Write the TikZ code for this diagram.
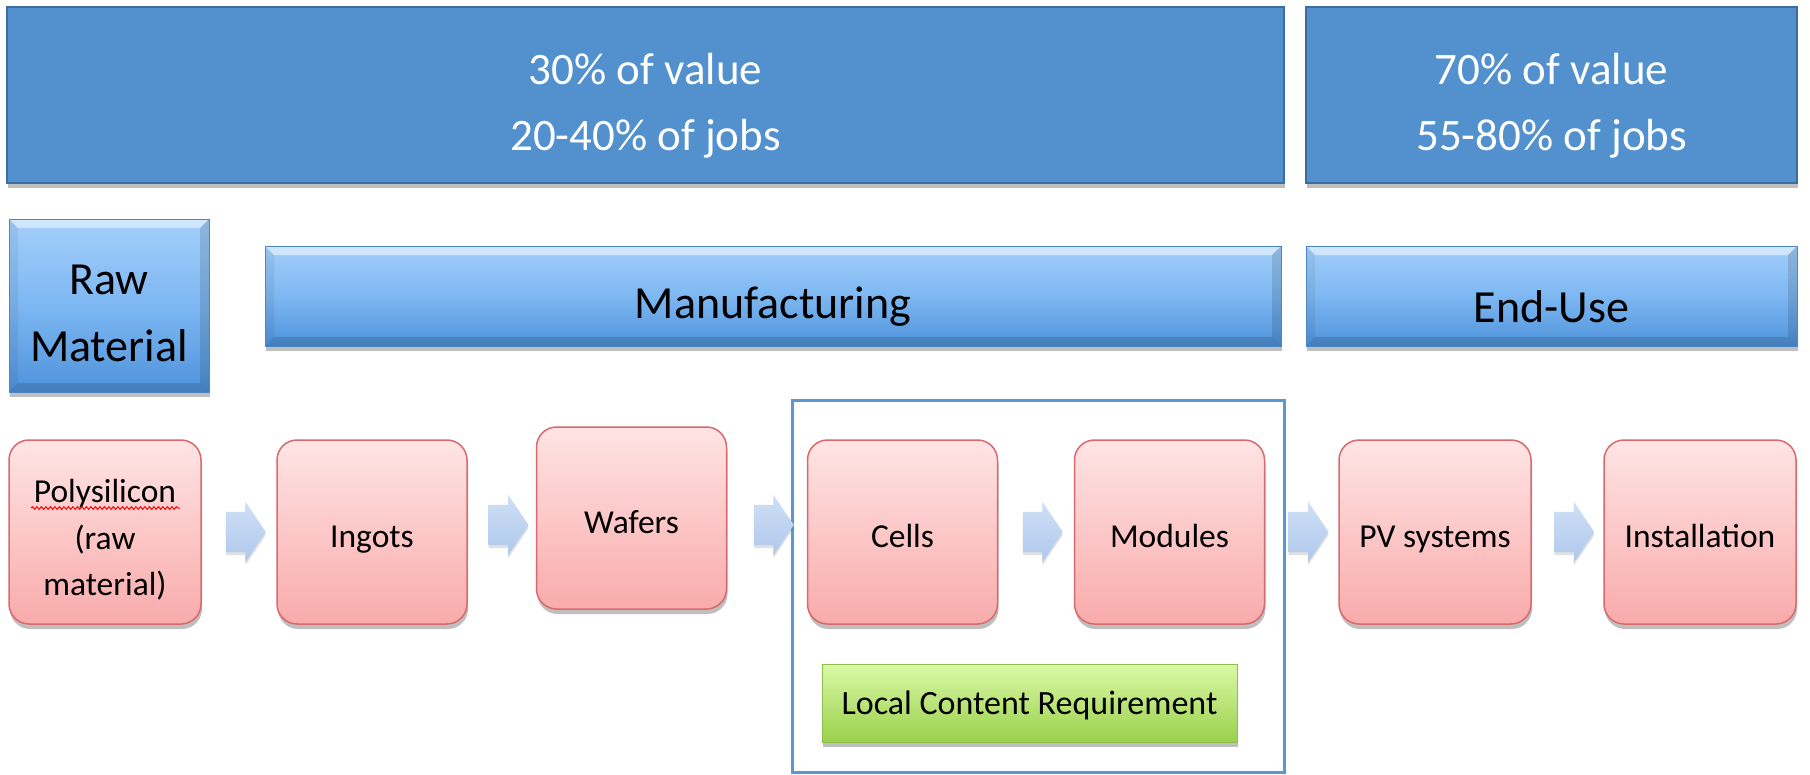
\documentclass[tikz,border=0pt]{standalone}
\usepackage{fontspec}
\setmainfont{Carlito}
\usetikzlibrary{shapes.arrows,shadows,calc,decorations.pathmorphing}

\definecolor{bannerfill}{HTML}{5291CE}
\definecolor{bannerline}{HTML}{3C6D9E}
\definecolor{bartop}{HTML}{A4CFFB}
\definecolor{barmid}{HTML}{7DB7F2}
\definecolor{barbot}{HTML}{4F93DB}
\definecolor{barline}{HTML}{4A86C6}
\definecolor{boxtop}{HTML}{FFE4E4}
\definecolor{boxbot}{HTML}{F9ABAB}
\definecolor{boxline}{HTML}{D9696C}
\definecolor{arrtop}{HTML}{CFE0F7}
\definecolor{arrbot}{HTML}{AFC8EC}
\definecolor{lcrtop}{HTML}{DAF9A6}
\definecolor{lcrbot}{HTML}{9BD04C}
\definecolor{lcrline}{HTML}{8DBE4C}
\definecolor{framecol}{HTML}{5B97D2}

\tikzset{
  softshadow/.style={drop shadow={shadow xshift=1pt, shadow yshift=-5pt, opacity=0.25, fill=black}},
  banner/.style={draw=bannerline, line width=2pt, fill=bannerfill, inner sep=0pt, softshadow},
  bannertext/.style={text=white, font=\fontsize{45}{66}\selectfont, align=center, inner sep=0pt},
  % bevelled header bar
  stagebar/.style={draw=barline, line width=0.8pt, top color=bartop, bottom color=barbot,
    middle color=barmid, inner sep=0pt, softshadow,
    path picture={
      \coordinate (bnw) at (path picture bounding box.north west);
      \coordinate (bne) at (path picture bounding box.north east);
      \coordinate (bsw) at (path picture bounding box.south west);
      \coordinate (bse) at (path picture bounding box.south east);
      \fill[white, opacity=0.5] (bnw) -- (bne) -- ($(bne)+(-9pt,-9pt)$) -- ($(bnw)+(9pt,-9pt)$) -- cycle;
      \fill[black, opacity=0.14] (bsw) -- (bse) -- ($(bse)+(-9pt,9pt)$) -- ($(bsw)+(9pt,9pt)$) -- cycle;
      \fill[black, opacity=0.06] (bnw) -- (bsw) -- ($(bsw)+(9pt,9pt)$) -- ($(bnw)+(9pt,-9pt)$) -- cycle;
      \fill[black, opacity=0.12] (bne) -- (bse) -- ($(bse)+(-9pt,9pt)$) -- ($(bne)+(-9pt,-9pt)$) -- cycle;
    }},
  bartext/.style={font=\fontsize{46}{67}\selectfont, align=center, inner sep=0pt},
  stepbox/.style={rounded corners=20pt, draw=boxline, line width=1.5pt, top color=boxtop,
    bottom color=boxbot, font=\fontsize{33.5}{46.5}\selectfont, align=center, inner sep=0pt,
    text height=34pt, text depth=4pt,
    minimum width=190pt, minimum height=184pt, softshadow},
  steptext/.style={font=\fontsize{33.5}{46.5}\selectfont, align=center, inner sep=0pt},
  flow/.style={single arrow, single arrow head extend=10pt, single arrow tip angle=112,
    minimum width=60pt, minimum height=40pt, inner xsep=0pt, inner ysep=20pt,
    top color=arrtop, bottom color=arrbot, draw=none,
    drop shadow={shadow xshift=0pt, shadow yshift=-3pt, opacity=0.12, fill=black}},
  lcrbox/.style={draw=lcrline, line width=1pt, top color=lcrtop, bottom color=lcrbot,
    font=\fontsize{34}{40}\selectfont, inner sep=0pt, text height=28pt, text depth=5pt,
    softshadow},
}

\begin{document}
\begin{tikzpicture}[x=1pt, y=-1pt]
  \useasboundingbox[fill=white] (0,0) rectangle (1810,774);

  % value and jobs banners
  \node (valL) [banner, minimum width=1277pt, minimum height=176pt] at (645.5,95) {};
  \node (valLtxt) [bannertext] at ($(valL.center)+(0pt,-11pt)$) {30\% of value\\20-40\% of jobs};
  \node (valR) [banner, minimum width=491pt, minimum height=176pt] at (1551.5,95) {};
  \node (valRtxt) [bannertext] at ($(valR.center)+(0pt,-11pt)$) {70\% of value\\55-80\% of jobs};

  % stage headers
  \node (raw) [stagebar, minimum width=200pt, minimum height=173pt] at (109,305.5) {};
  \node (rawtxt) [bartext] at ($(raw.center)+(0pt,-8pt)$) {Raw\\Material};
  \node (manu) [stagebar, minimum width=1016pt, minimum height=100pt] at (773,296) {};
  \node (manutxt) [bartext] at ($(manu.center)+(0pt,-11pt)$) {Manufacturing};
  \node (enduse) [stagebar, minimum width=491pt, minimum height=100pt] at (1551.5,296) {};
  \node (endusetxt) [bartext] at ($(enduse.center)+(0pt,-11pt)$) {End-Use};

  % frame round the cells and modules steps
  \node (lcrframe) [draw=framecol, line width=3pt, minimum width=492pt, minimum height=372pt,
    inner sep=0pt] at (1038,586) {};

  % value chain steps
  \node (poly) [stepbox, minimum width=192pt] at (105,532) {};
  \node (polytxt) [steptext] at ($(poly.center)+(0pt,-8pt)$) {Polysilicon\\(raw\\material)};
  \node (ingots) [stepbox] at (372,532) {Ingots};
  \node (wafers) [stepbox, minimum height=182pt] at (631.5,518) {Wafers};
  \node (cells) [stepbox] at (902.5,532) {Cells};
  \node (modules) [stepbox] at (1169.5,532) {Modules};
  \node (pv) [stepbox, minimum width=192pt] at (1435,532) {PV systems};
  \node (install) [stepbox, minimum width=192pt] at (1700,532) {Installation};

  % spell-check squiggle under Polysilicon
  \coordinate (sqA) at (31,508);
  \coordinate (sqB) at (180,508);
  \draw[red, line width=1pt, decorate, decoration={snake, amplitude=1.3pt, segment length=4.5pt}]
    (sqA) -- (sqB);

  % flow arrows between the steps
  \node (a1) [flow] at ($(poly.east)!0.5!(ingots.west)$) {};
  \node (a2) [flow] at ($(ingots.east)!0.5!(wafers.west)$) {};
  \node (a3) [flow] at ($(wafers.east)!0.5!(cells.west)$) {};
  \node (a4) [flow] at ($(cells.east)!0.5!(modules.west)$) {};
  \node (a5) [flow] at ($(modules.east)!0.5!(pv.west)$) {};
  \node (a6) [flow] at ($(pv.east)!0.5!(install.west)$) {};

  % local content requirement
  \node (lcr) [lcrbox, minimum width=415pt, minimum height=78pt] at (1029.5,703)
    {Local Content Requirement};
\end{tikzpicture}
\end{document}
